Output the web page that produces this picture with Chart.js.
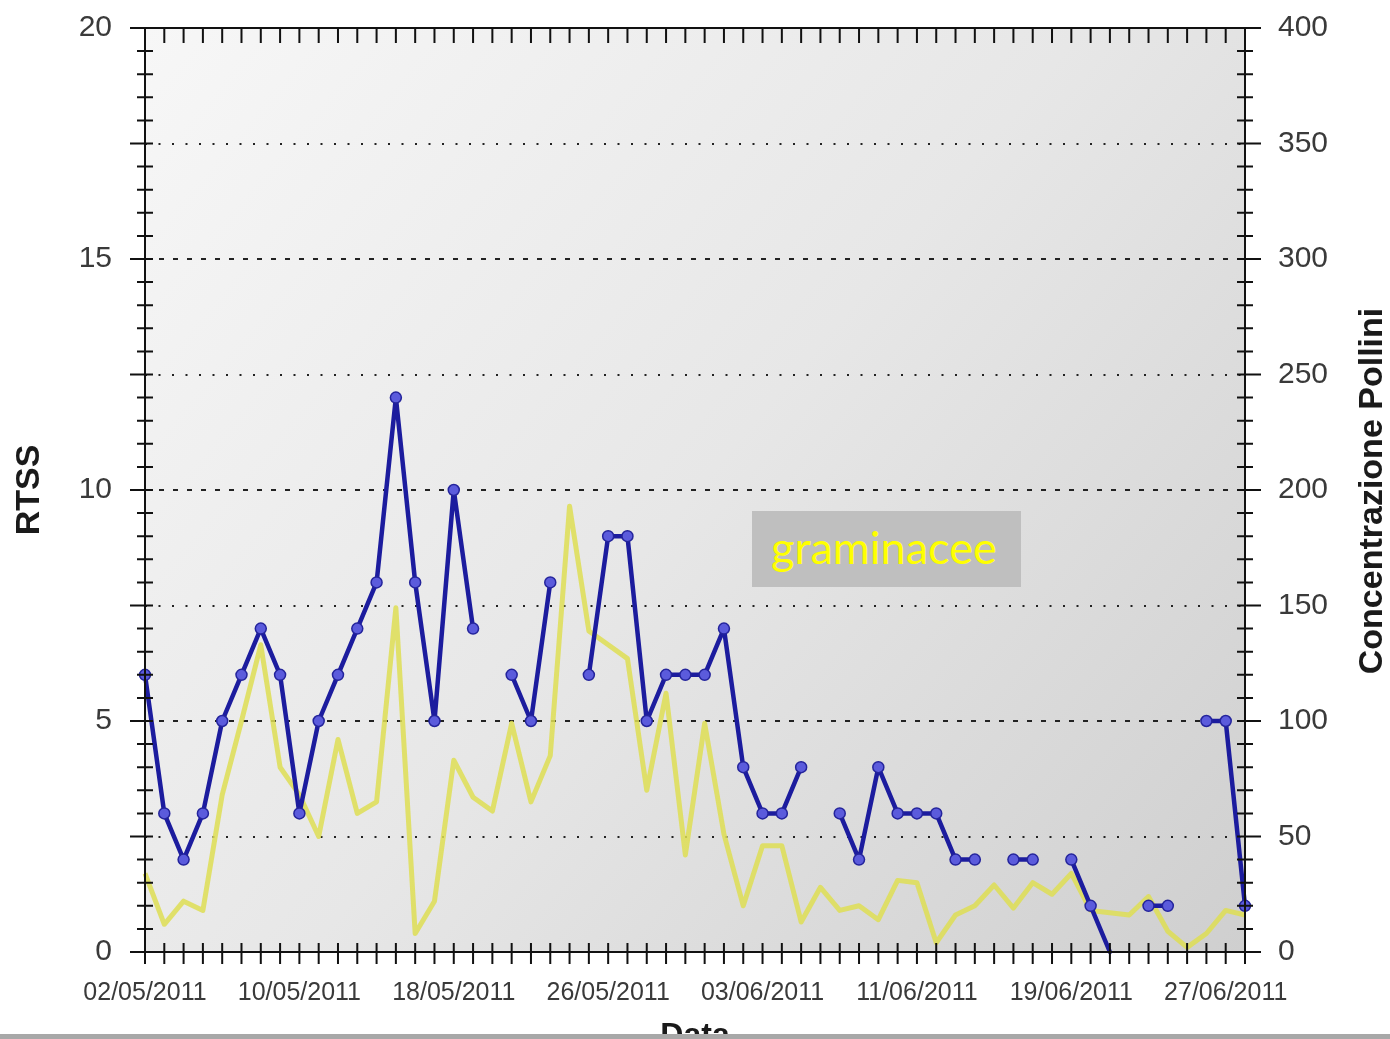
<!DOCTYPE html>
<html><head><meta charset="utf-8">
<script src="https://cdn.jsdelivr.net/npm/chart.js@4.4.1/dist/chart.umd.min.js"></script>
<style>
html,body{margin:0;padding:0;background:#fff;overflow:hidden;width:1390px;height:1039px;}
#wrap{position:relative;width:1390px;height:1039px;overflow:hidden;}
canvas{position:absolute;left:0;top:0;}
#note{position:absolute;left:752px;top:511px;width:269px;height:76px;background:#bfbfbf;color:#ffff00;font-family:Lato,'Open Sans',sans-serif;font-size:45px;line-height:72px;padding-left:19px;box-sizing:border-box;white-space:nowrap;}
#bar{position:absolute;left:0;top:1034px;width:1390px;height:5px;background:#a8a8a8;}
</style></head><body>
<div id="wrap"><canvas id="c" width="1390" height="1060"></canvas><div id="note">graminacee</div><div id="bar"></div></div>
<script>
const dates = [
 "02/05/2011","03/05/2011","04/05/2011","05/05/2011","06/05/2011","07/05/2011","08/05/2011","09/05/2011",
 "10/05/2011","11/05/2011","12/05/2011","13/05/2011","14/05/2011","15/05/2011","16/05/2011","17/05/2011",
 "18/05/2011","19/05/2011","20/05/2011","21/05/2011","22/05/2011","23/05/2011","24/05/2011","25/05/2011",
 "26/05/2011","27/05/2011","28/05/2011","29/05/2011","30/05/2011","31/05/2011","01/06/2011","02/06/2011",
 "03/06/2011","04/06/2011","05/06/2011","06/06/2011","07/06/2011","08/06/2011","09/06/2011","10/06/2011",
 "11/06/2011","12/06/2011","13/06/2011","14/06/2011","15/06/2011","16/06/2011","17/06/2011","18/06/2011",
 "19/06/2011","20/06/2011","21/06/2011","22/06/2011","23/06/2011","24/06/2011","25/06/2011","26/06/2011",
 "27/06/2011","28/06/2011"
];
const rtss = [6,3,2,3,5,6,7,6,3,5,6,7,8,12,8,5,10,7,null,6,5,8,null,6,9,9,5,6,6,6,7,4,3,3,4,null,3,2,4,3,3,3,2,2,null,2,2,null,2,1,0,null,1,1,null,5,5,1];
const pollini = [34,12,22,18,68,100,133,80,68,50,92,60,65,149,8,22,83,67,61,99,65,85,193,139,133,127,70,112,42,99,51,20,46,46,13,28,18,20,14,31,30,4,16,20,29,19,30,25,34,18,17,16,24,9,2,8,18,16];
const leftTitle = "RTSS";
const rightTitle = "Concentrazione Pollini";
const xTitle = "Data";
const annotation = "graminacee";

const FONT = '"Liberation Sans", Arial, sans-serif';

const framePlugin = {
  id: 'frame',
  beforeDraw(chart) {
    const {ctx, chartArea: a} = chart;
    const g = ctx.createLinearGradient(a.left, a.top, a.right, a.bottom);
    g.addColorStop(0, '#f7f7f7');
    g.addColorStop(0.5, '#e7e7e7');
    g.addColorStop(1, '#cfcfcf');
    ctx.save();
    ctx.fillStyle = g;
    ctx.fillRect(a.left, a.top, a.right - a.left, a.bottom - a.top);
    ctx.restore();
  },
  afterDraw(chart) {
    const {ctx, chartArea: a, scales} = chart;
    ctx.save();
    ctx.strokeStyle = '#111';
    ctx.lineWidth = 2;
    ctx.strokeRect(a.left, a.top, a.right - a.left, a.bottom - a.top);
    ctx.beginPath();
    const xs = scales.x;
    for (let i = 0; i < dates.length; i++) {
      const x = xs.getPixelForValue(i);
      ctx.moveTo(x, a.bottom - 9); ctx.lineTo(x, a.bottom + 12);
      ctx.moveTo(x, a.top); ctx.lineTo(x, a.top + 15);
    }
    const yl = scales.y;
    for (let v = 0; v <= 20; v += 0.5) {
      const y = yl.getPixelForValue(v);
      const major = (v % 2.5 === 0);
      ctx.moveTo(major ? a.left - 15 : a.left - 8, y); ctx.lineTo(a.left + 8, y);
    }
    const yr = scales.y2;
    for (let p = 0; p <= 400; p += 10) {
      const y = yr.getPixelForValue(p);
      const major = (p % 50 === 0);
      ctx.moveTo(a.right - 8, y); ctx.lineTo(major ? a.right + 16 : a.right + 8, y);
    }
    ctx.stroke();
    ctx.translate(1373, 491);
    ctx.rotate(-Math.PI / 2);
    ctx.font = 'bold 34px ' + FONT;
    ctx.textAlign = 'center';
    ctx.textBaseline = 'middle';
    ctx.fillStyle = '#1a1a1a';
    ctx.fillText(rightTitle, 0, 0);
    ctx.restore();
  }
};

new Chart(document.getElementById('c'), {
  type: 'line',
  data: {
    labels: dates,
    datasets: [
      {
        label: 'RTSS', data: rtss, yAxisID: 'y', order: 0,
        borderColor: '#1c1c9e', borderWidth: 4.5, tension: 0, spanGaps: false, clip: false,
        borderJoinStyle: 'round', borderCapStyle: 'round',
        pointRadius: c => (c.raw === 0 ? 0 : 5.5),
        pointBackgroundColor: '#5b5bdc', pointBorderColor: '#24249c', pointBorderWidth: 1.5
      },
      {
        label: 'Pollini', data: pollini, yAxisID: 'y2', order: 1,
        borderColor: 'rgba(222,222,84,0.85)', borderWidth: 5, tension: 0, pointRadius: 0,
        borderJoinStyle: 'round'
      }
    ]
  },
  options: {
    responsive: false,
    animation: false,
    devicePixelRatio: 1,
    layout: {padding: {top: 28, left: 0, right: 0, bottom: 0}},
    plugins: {legend: {display: false}, tooltip: {enabled: false}, title: {display: false}},
    scales: {
      x: {
        type: 'category', offset: false,
        grid: {display: false}, border: {display: false},
        ticks: {
          autoSkip: false, maxRotation: 0, minRotation: 0, padding: 18,
          color: '#3a3a3a', font: {family: FONT, size: 25},
          callback: function (v, i) { return i % 8 === 0 ? this.getLabelForValue(v) : null; }
        },
        title: {display: true, text: xTitle, color: '#1a1a1a', font: {family: FONT, size: 32, weight: 'bold'}, padding: {top: 0, bottom: 5}},
        afterFit(s) { s.height = 108; s.paddingLeft = 0; s.paddingRight = 0; }
      },
      y: {
        position: 'left', min: 0, max: 20,
        ticks: {stepSize: 2.5, padding: 33, color: '#3a3a3a', font: {family: FONT, size: 30},
          callback: v => (v % 5 === 0 ? String(v) : '')},
        grid: {drawTicks: false, lineWidth: 2,
          color: c => (c.tick && c.tick.value % 5 !== 0 ? '#222' : 'rgba(0,0,0,0)')},
        border: {display: false, dash: [2, 11.5]},
        title: {display: true, text: leftTitle, color: '#1a1a1a', font: {family: FONT, size: 34, weight: 'bold'}, padding: {top: 9, bottom: 0}},
        afterFit(s) { s.width = 145; s.paddingTop = 0; s.paddingBottom = 0; }
      },
      y2: {
        position: 'right', min: 0, max: 400,
        ticks: {stepSize: 50, padding: 33, color: '#3a3a3a', font: {family: FONT, size: 30}},
        grid: {drawTicks: false, lineWidth: 2,
          color: c => (c.tick && c.tick.value % 100 === 0 && c.tick.value > 0 && c.tick.value < 400 ? '#222' : 'rgba(0,0,0,0)')},
        border: {display: false, dash: [5, 9]},
        afterFit(s) { s.width = 145; s.paddingTop = 0; s.paddingBottom = 0; }
      }
    }
  },
  plugins: [framePlugin]
});
</script>
</body></html>
